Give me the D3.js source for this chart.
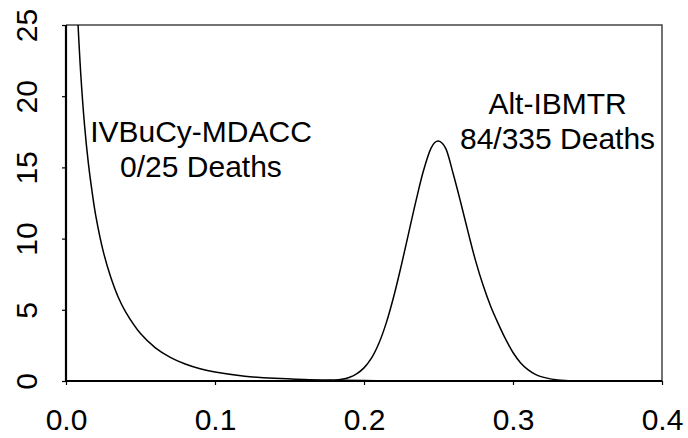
<!DOCTYPE html>
<html>
<head>
<meta charset="utf-8">
<script src="https://cdn.jsdelivr.net/npm/d3@7"></script>
<style>
  body { margin: 0; background: #fff; }
  text { font-family: "Liberation Sans", Arial, sans-serif; }
</style>
</head>
<body>
<div id="chart"></div>
<script>
// density curves (x = death rate, y = density)
const mdaccX = [0.0075, 0.0081, 0.010, 0.0125, 0.015, 0.0175, 0.020, 0.025, 0.030, 0.035, 0.040, 0.050, 0.060, 0.070, 0.080, 0.090, 0.100, 0.120, 0.140, 0.160, 0.180, 0.200, 0.220, 0.240];
const mdaccY = [26.4, 25.0, 21.4, 17.9, 15.3, 13.3, 11.6, 9.1, 7.3, 5.9, 4.85, 3.33, 2.33, 1.66, 1.19, 0.86, 0.63, 0.34, 0.185, 0.10, 0.057, 0.03, 0.017, 0.008];

const ibmtrX = [0.165, 0.170, 0.175, 0.180, 0.185, 0.190, 0.195, 0.200, 0.205, 0.210, 0.215, 0.220, 0.225, 0.230, 0.235, 0.240, 0.245, 0.2475, 0.250, 0.2525, 0.255, 0.260, 0.265, 0.270, 0.275, 0.280, 0.285, 0.290, 0.295, 0.300, 0.305, 0.310, 0.315, 0.320, 0.325, 0.330, 0.335, 0.340, 0.345, 0.350];
const ibmtrY = [0, 0.008, 0.02, 0.054, 0.12, 0.25, 0.50, 0.92, 1.6, 2.65, 4.1, 5.95, 8.1, 10.4, 12.7, 14.8, 16.35, 16.75, 16.85, 16.7, 16.3, 14.5, 12.5, 10.4, 8.4, 6.7, 5.25, 4.05, 2.95, 2.0, 1.29, 0.80, 0.47, 0.27, 0.15, 0.076, 0.035, 0.015, 0.005, 0];

const xTicks = [0, 0.1, 0.2, 0.3, 0.4];
const yTicks = [0, 5, 10, 15, 20, 25];

const labels = [
  { x: 0.0906, y: 16.76, lines: ["IVBuCy-MDACC", "0/25 Deaths"] },
  { x: 0.3299, y: 18.73, lines: ["Alt-IBMTR", "84/335 Deaths"] }
];

const W = 688, H = 438;
const margin = { top: 25, right: 26, bottom: 57, left: 66 };
const width = W - margin.left - margin.right,
      height = H - margin.top - margin.bottom;

const svg = d3.select("#chart").append("svg")
    .attr("width", W)
    .attr("height", H);

const g = svg.append("g")
    .attr("transform", `translate(${margin.left},${margin.top})`);

const x = d3.scaleLinear().domain([0, 0.4]).range([0, width]);
const y = d3.scaleLinear().domain([0, 25]).range([height, 0]);

g.append("clipPath").attr("id", "clip")
  .append("rect").attr("width", width).attr("height", height);

// frame top + right (grey, thinner)
g.append("path")
    .attr("d", `M0,0H${width}V${height}`)
    .attr("fill", "none")
    .attr("stroke", "#444")
    .attr("stroke-width", 1.5);

// x axis
const xAxis = g.append("g")
    .attr("transform", `translate(0,${height})`)
    .call(d3.axisBottom(x).tickValues(xTicks).tickFormat(d3.format(".1f")).tickSize(4).tickPadding(24));
// y axis
const yAxis = g.append("g")
    .call(d3.axisLeft(y).tickValues(yTicks).tickSize(4).tickPadding(0));

[xAxis, yAxis].forEach(a => {
  a.select(".domain").attr("stroke", "#000").attr("stroke-width", 2.2);
  a.selectAll(".tick line").attr("stroke", "#000").attr("stroke-width", 1.2);
  a.selectAll("text").attr("font-size", 30).attr("fill", "#000")
    .attr("font-family", "'Liberation Sans', Arial, sans-serif");
});
xAxis.select(".domain").attr("d", `M0,0H${width}`);
yAxis.select(".domain").attr("d", `M0,0V${height}`);

// rotated y tick labels
yAxis.selectAll(".tick text")
    .attr("x", null).attr("dy", null)
    .attr("text-anchor", "middle")
    .attr("transform", "translate(-29,0) rotate(-90)");

const line = d3.line()
    .x(d => x(d[0]))
    .y(d => y(d[1]))
    .curve(d3.curveCatmullRom.alpha(0.5));

[[mdaccX, mdaccY], [ibmtrX, ibmtrY]].forEach(([xs, ys]) => {
  g.append("path")
      .datum(xs.map((v, i) => [v, ys[i]]))
      .attr("clip-path", "url(#clip)")
      .attr("fill", "none")
      .attr("stroke", "#000")
      .attr("stroke-width", 1.5)
      .attr("d", line);
});

// annotations
labels.forEach(l => {
  const t = g.append("text")
      .attr("text-anchor", "middle")
      .attr("font-size", 30)
      .attr("fill", "#000");
  l.lines.forEach((s, i) => {
    t.append("tspan")
        .attr("x", x(l.x))
        .attr("y", y(l.y) + i * 35)
        .text(s);
  });
});
</script>
</body>
</html>
